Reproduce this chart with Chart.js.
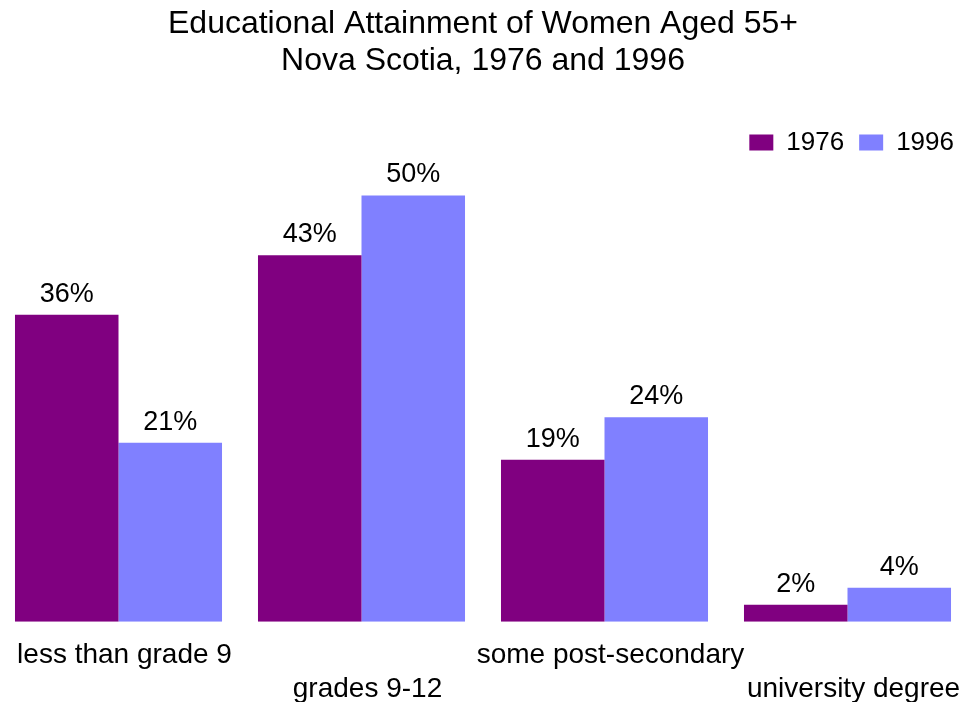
<!DOCTYPE html>
<html lang="en">
<head>
<meta charset="UTF-8">
<title>Educational Attainment of Women Aged 55+</title>
<script src="https://cdn.jsdelivr.net/npm/chart.js"></script>
<style>
    body { margin: 0; background: #fff; overflow: hidden; }
    /* slightly taller than the window so the second label row sits at the bottom edge */
    .chart-box {
        position: absolute;
        left: -3px;
        top: 0;
        width: 972px;
        height: 717px;
    }
</style>
</head>
<body>
<div class="chart-box">
    <canvas id="myChart"></canvas>
</div>
<script>
    // categories (two-line labels so they alternate rows under the bars)
    const categories = [
        ['less than grade 9', ''],
        ['', 'grades 9-12'],
        ['some post-secondary', ''],
        ['', 'university degree']
    ];
    const years = ['1976', '1996'];
    const values1976 = [36, 43, 19, 2];
    const values1996 = [21, 50, 24, 4];
    const yearColors = ['#800080', '#8080FF'];

    const FONT = "'Liberation Sans', Arial, sans-serif";
    Chart.defaults.color = '#000';
    Chart.defaults.font.family = FONT;

    // percentage labels above every bar
    const valueLabels = {
        id: 'valueLabels',
        afterDatasetsDraw(chart) {
            const ctx = chart.ctx;
            ctx.save();
            ctx.font = '27px ' + FONT;
            ctx.fillStyle = '#000';
            ctx.textAlign = 'center';
            ctx.textBaseline = 'alphabetic';
            chart.data.datasets.forEach((ds, i) => {
                chart.getDatasetMeta(i).data.forEach((bar, j) => {
                    ctx.fillText(ds.data[j] + '%', bar.x, bar.y - 13);
                });
            });
            ctx.restore();
        }
    };

    const ctx = document.getElementById('myChart').getContext('2d');
    new Chart(ctx, {
        type: 'bar',
        data: {
            labels: categories,
            datasets: [
                { label: years[0], data: values1976, backgroundColor: yearColors[0] },
                { label: years[1], data: values1996, backgroundColor: yearColors[1] }
            ]
        },
        options: {
            responsive: true,
            maintainAspectRatio: false,
            animation: false,
            datasets: {
                bar: { categoryPercentage: 0.852, barPercentage: 1 }
            },
            plugins: {
                title: {
                    display: true,
                    text: ['Educational Attainment of Women Aged 55+', 'Nova Scotia, 1976 and 1996'],
                    font: { size: 32, weight: 'normal', lineHeight: 1.15 },
                    color: '#000',
                    padding: { top: 6, bottom: 35 }
                },
                legend: {
                    position: 'top',
                    align: 'end',
                    labels: {
                        font: { size: 26 },
                        boxWidth: 24,
                        boxHeight: 16,
                        padding: 15
                    }
                },
                tooltip: { enabled: false }
            },
            scales: {
                x: {
                    // tick marks hidden, their length only spaces the labels down
                    grid: { display: false, drawTicks: true, tickLength: 6 },
                    border: { display: false },
                    ticks: {
                        font: { size: 28 },
                        color: '#000',
                        padding: 11,
                        labelOffset: 6,
                        maxRotation: 0,
                        minRotation: 0,
                        autoSkip: false
                    }
                },
                y: {
                    display: false,
                    min: 0,
                    max: 53.5
                }
            }
        },
        plugins: [valueLabels]
    });
</script>
</body>
</html>
